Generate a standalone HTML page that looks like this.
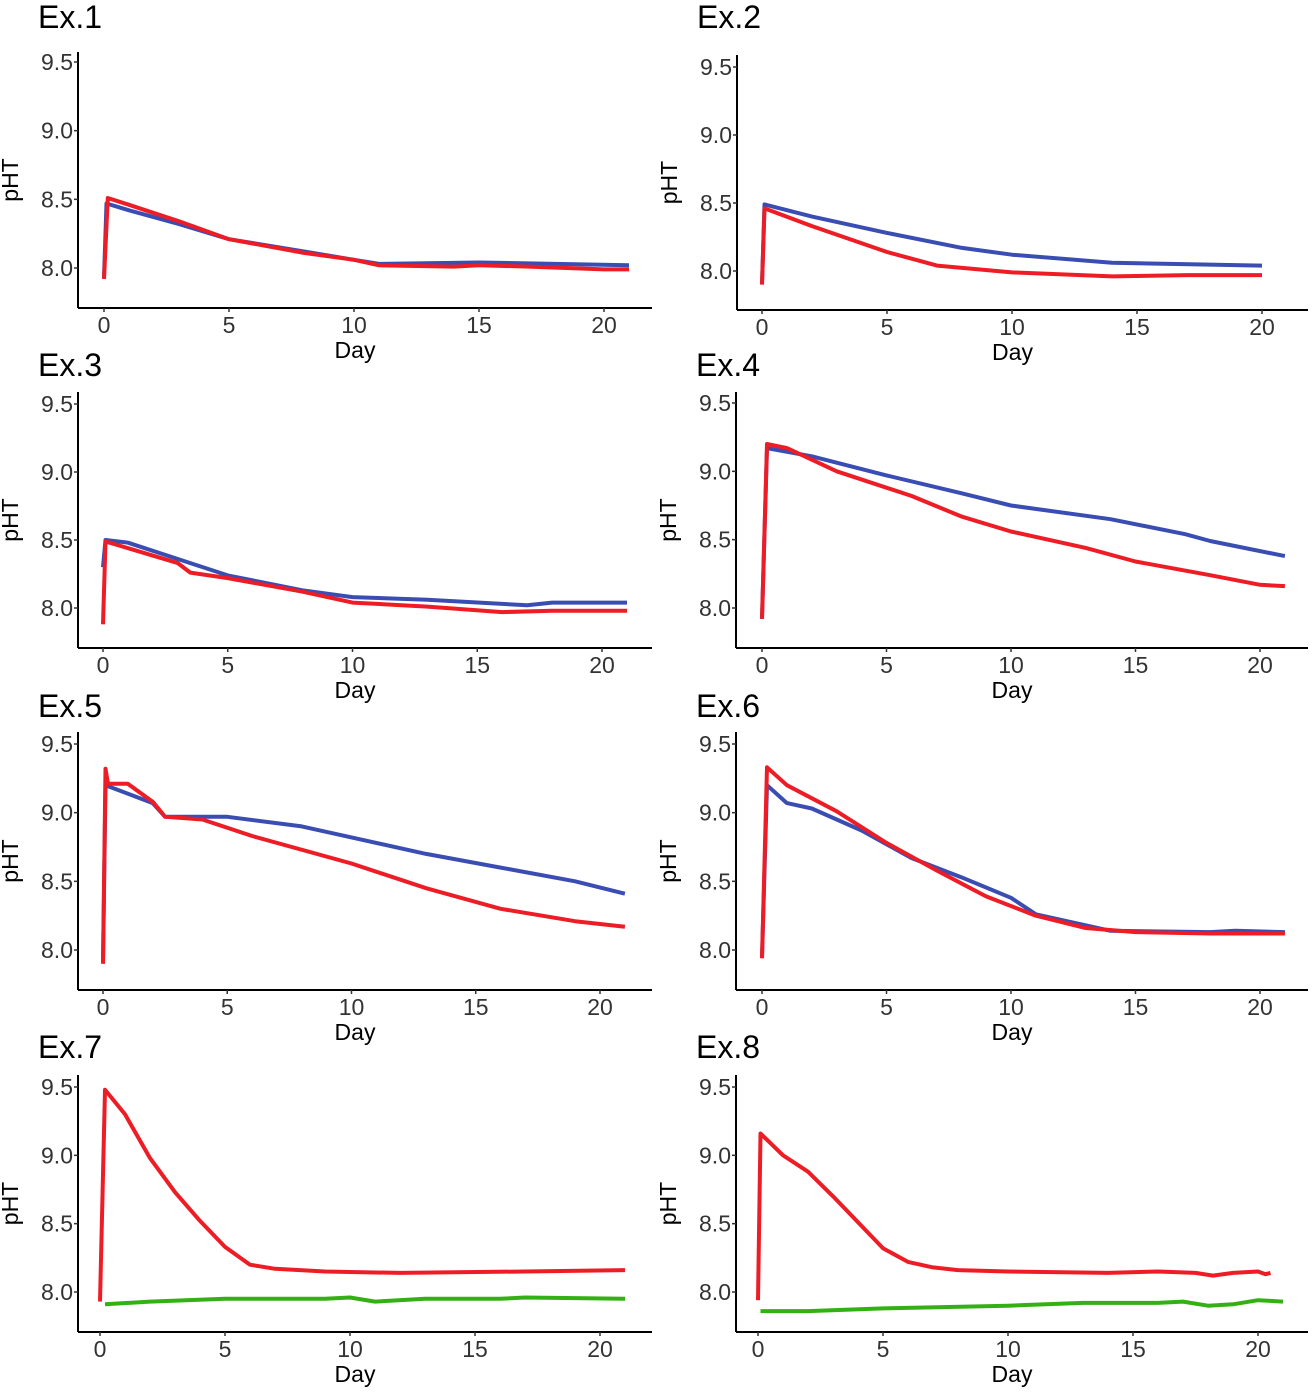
<!DOCTYPE html>
<html><head><meta charset="utf-8"><style>
html,body{margin:0;padding:0;background:#fff;}
svg{display:block;font-family:"Liberation Sans",sans-serif;}
</style></head><body>
<svg id="chart" width="1314" height="1392" xmlns="http://www.w3.org/2000/svg"></svg>
<script>
const ticksY = [8.0, 8.5, 9.0, 9.5];
const tickYLabels = ["8.0","8.5","9.0","9.5"];
const ticksX = [0,5,10,15,20];
const titles = ["Ex.1","Ex.2","Ex.3","Ex.4","Ex.5","Ex.6","Ex.7","Ex.8"];
const ex1Blue=[[0,7.93],[0.1,8.47],[1,8.42],[3,8.32],[5,8.21],[8,8.12],[10,8.06],[11,8.03],[15,8.04],[21,8.02]];
const ex1Red=[[0,7.92],[0.15,8.51],[1,8.46],[3,8.34],[5,8.21],[8,8.11],[10,8.06],[11,8.02],[14,8.01],[15,8.02],[17,8.01],[20,7.99],[21,7.99]];
const ex2Blue=[[0,7.9],[0.1,8.49],[2,8.4],[5,8.28],[8,8.17],[10,8.12],[14,8.06],[20,8.04]];
const ex2Red=[[0,7.9],[0.1,8.46],[2,8.33],[5,8.14],[7,8.04],[10,7.99],[14,7.96],[17,7.97],[20,7.97]];
const ex3Blue=[[0,8.3],[0.1,8.5],[1,8.48],[3,8.36],[5,8.24],[8,8.13],[10,8.08],[13,8.06],[17,8.02],[18,8.04],[21,8.04]];
const ex3Red=[[0,7.88],[0.1,8.49],[3,8.33],[3.5,8.26],[5,8.22],[8,8.12],[10,8.04],[13,8.01],[16,7.97],[18,7.98],[21,7.98]];
const ex4Blue=[[0,7.92],[0.2,9.17],[2,9.11],[5,8.97],[8,8.84],[10,8.75],[14,8.65],[17,8.54],[18,8.49],[21,8.38]];
const ex4Red=[[0,7.92],[0.2,9.2],[1,9.17],[3,9.0],[6,8.82],[8,8.67],[10,8.56],[13,8.44],[15,8.34],[18,8.24],[20,8.17],[21,8.16]];
const ex5Blue=[[0,7.9],[0.1,9.2],[2,9.07],[2.5,8.97],[5,8.97],[8,8.9],[10,8.82],[13,8.7],[16,8.6],[19,8.5],[21,8.41]];
const ex5Red=[[0,7.9],[0.1,9.32],[0.2,9.21],[1,9.21],[2,9.08],[2.5,8.97],[4,8.95],[6,8.83],[10,8.63],[13,8.45],[16,8.3],[19,8.21],[21,8.17]];
const ex6Blue=[[0,7.94],[0.2,9.2],[1,9.07],[2,9.03],[4,8.87],[6,8.67],[8,8.53],[10,8.38],[11,8.26],[13,8.18],[14,8.14],[18,8.13],[19,8.14],[21,8.13]];
const ex6Red=[[0,7.94],[0.2,9.33],[1,9.2],[3,9.01],[5,8.78],[7,8.58],[9,8.39],[11,8.25],[13,8.16],[15,8.13],[18,8.12],[21,8.12]];
const ex7Red=[[0,7.93],[0.2,9.48],[1,9.3],[2,8.98],[3,8.73],[4,8.52],[5,8.33],[6,8.2],[7,8.17],[9,8.15],[12,8.14],[17,8.15],[21,8.16]];
const ex7Green=[[0.2,7.91],[2,7.93],[5,7.95],[9,7.95],[10,7.96],[11,7.93],[13,7.95],[16,7.95],[17,7.96],[21,7.95]];
const ex8Red=[[0,7.94],[0.1,9.16],[1,9.0],[2,8.88],[3,8.7],[4,8.51],[5,8.32],[6,8.22],[7,8.18],[8,8.16],[10,8.15],[14,8.14],[16,8.15],[17.5,8.14],[18.2,8.12],[19,8.14],[20,8.15],[20.3,8.13],[20.5,8.14]];
const ex8Green=[[0.1,7.86],[2,7.86],[5,7.88],[10,7.9],[13,7.92],[16,7.92],[17,7.93],[18,7.9],[19,7.91],[20,7.94],[21,7.93]];
const seriesSets=[[ex1Blue,ex1Red],[ex2Blue,ex2Red],[ex3Blue,ex3Red],[ex4Blue,ex4Red],[ex5Blue,ex5Red],[ex6Blue,ex6Red],[ex7Green,ex7Red],[ex8Green,ex8Red]];
const seriesColors=[["#3a4db3","#ee1c25"],["#3a4db3","#ee1c25"],["#3a4db3","#ee1c25"],["#3a4db3","#ee1c25"],["#3a4db3","#ee1c25"],["#3a4db3","#ee1c25"],["#33b014","#ee1c25"],["#33b014","#ee1c25"]];
const layout=[
 [78,52,308,62,268,104,604,652,28],
 [737,55,310,67,271,762,1262,1308,28],
 [78,392,648,404,608,103,602,652,376],
 [736,392,648,403,608,762,1260,1308,376],
 [78,732,990,744,950,103,600,652,717],
 [736,732,990,744,950,762,1260,1308,717],
 [78,1075,1332,1087,1292,100,600,652,1058],
 [736,1075,1332,1087,1292,758,1258,1308,1058]];
const NS="http://www.w3.org/2000/svg";
const svg=document.getElementById('chart');
function mk(tag,attrs,parent){const e=document.createElementNS(NS,tag);for(const k in attrs)e.setAttribute(k,attrs[k]);parent.appendChild(e);return e;}
layout.forEach((L,i)=>{
 const [ax,top,bot,y95,y80,x0,x20,xEnd,ty]=L;
 const sx=d=>x0+(d/20)*(x20-x0);
 const sy=v=>y80+(v-8)/1.5*(y95-y80);
 const g=mk('g',{},svg);
 
 
 const t=mk('text',{x:ax-40,y:ty,'font-size':32,fill:'#000'},g);t.textContent=titles[i];
 
 
 const ya=mk('line',{x1:ax,y1:top,x2:ax,y2:bot,stroke:'#000','stroke-width':2},g);
 
 
 const xa=mk('line',{x1:ax,y1:bot,x2:xEnd,y2:bot,stroke:'#000','stroke-width':2},g);
 
 
 ticksY.forEach((v,j)=>{
  mk('line',{x1:ax-4,y1:sy(v),x2:ax,y2:sy(v),stroke:'#333','stroke-width':1.5},g);
  const l=mk('text',{x:ax-5,y:sy(v)+8,'font-size':23,fill:'#333','text-anchor':'end'},g);l.textContent=tickYLabels[j];
  
  
 });
 ticksX.forEach(d=>{
  mk('line',{x1:sx(d),y1:bot,x2:sx(d),y2:bot+4,stroke:'#333','stroke-width':1.5},g);
  const l=mk('text',{x:sx(d),y:bot+25,'font-size':23,fill:'#333','text-anchor':'middle'},g);l.textContent=String(d);
  
  
 });
 const xt=mk('text',{x:(ax+xEnd)/2-10,y:bot+50,'font-size':23,fill:'#000','text-anchor':'middle'},g);xt.textContent='Day';
 
 
 const ytx=ax-60, yty=(top+bot)/2;
 const yt=mk('text',{x:ytx,y:yty,'font-size':23,fill:'#000','text-anchor':'middle',transform:`rotate(-90 ${ytx} ${yty})`},g);yt.textContent='pHT';
 
 
 seriesSets[i].forEach((s,k)=>{
  const p=mk('polyline',{points:s.map(q=>sx(q[0]).toFixed(1)+','+sy(q[1]).toFixed(1)).join(' '),fill:'none',stroke:seriesColors[i][k],'stroke-width':4,'stroke-linejoin':'round'},g);
  
  
 });
});
</script>
</body></html>
